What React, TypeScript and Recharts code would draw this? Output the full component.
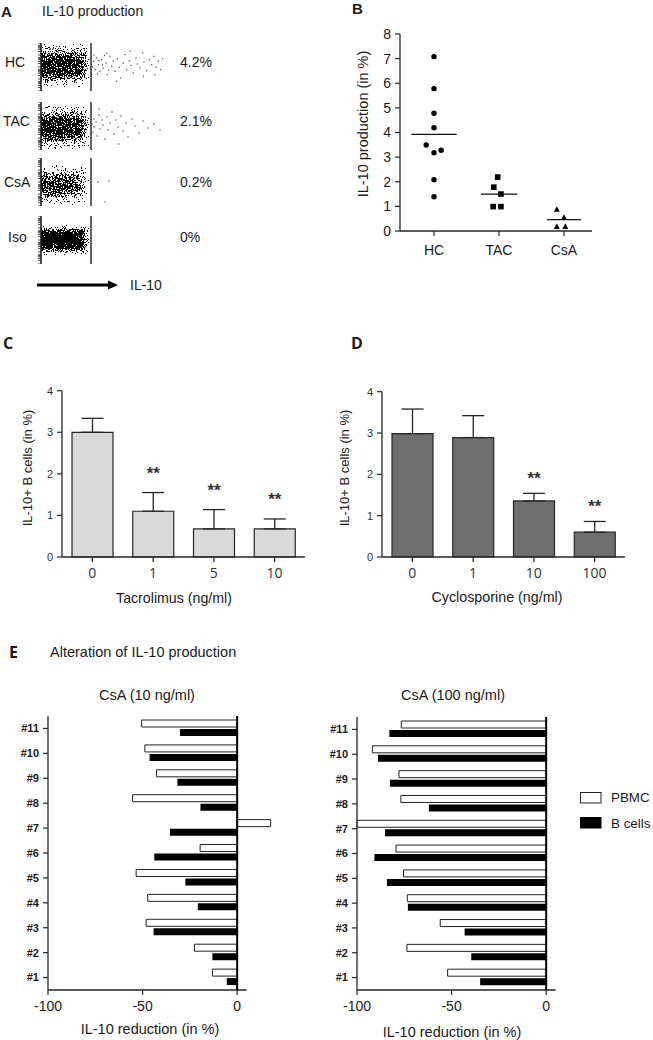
import React from 'react';
import {
  ScatterChart, Scatter, BarChart, Bar, XAxis, YAxis, ErrorBar, LabelList,
  ReferenceLine, ReferenceArea,
} from 'recharts';

const ARIAL = '"Liberation Sans", Arial, sans-serif';
const OPEN = '"Open Sans", "Liberation Sans", sans-serif';
const INK = '#1a1a1a';
const AXIS = '#262626';

// ---------------- Panel A: flow cytometry (IL-10 channel) ----------------
const flowSamples = ['HC', 'TAC', 'CsA', 'Iso'];
const flowPercents = ['4.2%', '2.1%', '0.2%', '0%'];
const flowGate = 50;
// main population extent (channel units) and relative density
const flowCoreX1 = [-8, -8, -8, -8];
const flowCoreX2 = [43, 43, 41, 44];
const flowCoreY1 = [14, 11, 11, 15];
const flowCoreY2 = [37, 34, 31, 33];
const flowDensity = [0.95, 0.95, 0.72, 1];
const flowTicks = [0, 3.6, 5.7, 7.2, 8.4, 9.3, 12, 15.6, 17.7, 19.2, 20.4, 21.3, 24, 27.6, 29.7, 31.2, 32.4, 33.3, 36, 39.6, 41.7, 43.2, 44.4, 45.3, 48];
const hcEventX = [52.3, 54, 55.7, 57.3, 59, 60.7, 62.3, 65, 66.3, 69, 70.7, 72.3, 74, 76.3, 78.3, 79.7, 82.3, 84, 85.7, 88.3, 90, 92.3, 95, 96.3, 99, 101.7, 103, 105.7, 108.3, 110.7, 113, 115, 117.3, 119.7, 121.7, 75.7, 89, 102.3, 65.7, 114, 51.5, 53, 56.5, 58, 61.5, 63.5, 67.5];
const hcEventY = [29.7, 21.3, 33, 26.3, 19.7, 31.3, 23, 28, 16.3, 34.7, 24.7, 29.7, 19.7, 32.3, 23.7, 13, 28, 36.3, 21.3, 30.3, 25.7, 18, 33, 27, 23, 38, 29, 20.3, 31.3, 26.3, 34.7, 23.7, 29.7, 21.3, 32.3, 9.7, 39.7, 14.7, 38, 16.3, 24, 36, 17, 30.5, 26, 35.5, 21];
const tacEventX = [51, 52, 53, 53, 55, 56, 58, 59, 61, 62, 64, 66, 67, 69, 71, 73, 75, 77, 80, 82, 85, 87, 91, 94, 98, 102, 107, 113, 119, 78, 58];
const tacEventY = [26, 18, 31, 23, 28, 14, 35, 21, 30, 25, 11, 33, 20, 27, 38, 16, 30, 23, 34, 19, 27, 13, 31, 24, 17, 29, 22, 26, 20, 6, 41];
const csaEventX = [57, 68, 64];
const csaEventY = [24, 25, 4];
const isoEventX = [12, 28, 38];
const isoEventY = [25, 22, 28];
const flowEventX = [hcEventX, tacEventX, csaEventX, isoEventX];
const flowEventY = [hcEventY, tacEventY, csaEventY, isoEventY];

// ---------------- Panel B ----------------
const groupNames = ['HC', 'TAC', 'CsA'];
const hcValues = [7.08, 5.78, 4.78, 4.19, 3.49, 3.18, 3.28, 2.08, 1.39];
const hcOffsets = [0, 0, 0, 0, -0.12, 0, 0.11, 0, 0];
const tacValues = [2.19, 1.78, 1.5, 0.99, 0.99];
const tacOffsets = [-0.02, -0.08, 0.03, -0.09, 0.03];
const csaValues = [0.88, 0.55, 0.18, 0.18];
const csaOffsets = [-0.11, 0, -0.11, 0.02];
const groupMeans = [3.92, 1.5, 0.46];
const yTicksB = [0, 1, 2, 3, 4, 5, 6, 7, 8];

// ---------------- Panels C / D ----------------
const tacDoses = ['0', '1', '5', '10'];
const tacMeans = [3.0, 1.1, 0.675, 0.675];
const tacErrors = [0.335, 0.45, 0.465, 0.24];
const tacSig = ['', '**', '**', '**'];
const csaDoses = ['0', '1', '10', '100'];
const csaMeans = [2.985, 2.89, 1.356, 0.6];
const csaErrors = [0.595, 0.53, 0.184, 0.26];
const csaSig = ['', '', '**', '**'];
const yTicksCD = [0, 1, 2, 3, 4];

// ---------------- Panel E ----------------
const donors = ['#1', '#2', '#3', '#4', '#5', '#6', '#7', '#8', '#9', '#10', '#11'];
const pbmc10 = [-13.1, -22.6, -48.1, -47.3, -53.4, -19.6, 17.7, -55.3, -42.6, -48.8, -50.5];
const bcell10 = [-5.5, -13.1, -44.2, -20.8, -27.4, -43.8, -35.5, -19.4, -31.6, -46.3, -30.2];
const pbmc100 = [-52.1, -73.6, -56.0, -73.4, -75.4, -79.4, -100, -76.8, -77.8, -91.9, -76.6];
const bcell100 = [-34.9, -39.6, -43.1, -73.1, -84.2, -90.8, -85.2, -62.0, -82.6, -88.9, -82.9];
const xTicksE = [-100, -50, 0];

// ---------------------------------------------------------------------
const flowTops = [43, 102, 158, 216];

function FlowPlot({ idx }: { idx: number }) {
  const events = flowEventX[idx].map((x, i) => ({ x, y: flowEventY[idx][i] }));
  const filt = idx === 3 ? 'url(#cloudTight)' : 'url(#cloudSoft)';
  const dens = flowDensity[idx];
  const fringe = idx === 3 ? 3 : 6;
  return (
    <div style={{ position: 'absolute', left: 30, top: flowTops[idx] }}>
      <ScatterChart width={141} height={48} margin={{ top: 0, right: 0, bottom: 0, left: 0 }}>
        <XAxis type="number" dataKey="x" domain={[0, 130]} hide />
        <YAxis type="number" dataKey="y" domain={[0, 48]} width={11} ticks={flowTicks} interval={0}
          tick={() => <g />} tickSize={3} axisLine={{ stroke: '#111', strokeWidth: 1.5 }}
          tickLine={{ stroke: '#333', strokeWidth: 0.9 }} />
        <ReferenceArea x1={flowCoreX1[idx]} x2={flowCoreX2[idx]} y1={flowCoreY1[idx]} y2={flowCoreY2[idx]}
          ifOverflow="hidden"
          shape={(p: any) => (
            <g filter={filt} clipPath={p.clipPath}>
              <rect x={p.x} y={p.y - fringe} width={p.width + 2} height={p.height + 2 * fringe} fill="#000" fillOpacity={dens * 0.45} />
              <rect x={p.x} y={p.y} width={p.width} height={p.height} fill="#000" fillOpacity={dens} />
            </g>
          )} />
        <ReferenceLine x={flowGate} stroke="#222" strokeWidth={1.4} />
        <Scatter data={events} isAnimationActive={false}
          shape={(p: any) => <rect x={p.cx - 0.6} y={p.cy - 0.6} width={1.2} height={1.2} fill="#444" />} />
      </ScatterChart>
    </div>
  );
}

const circleShape = (p: any) => <circle cx={p.cx} cy={p.cy} r={2.7} fill="#000" />;
const squareShape = (p: any) => <rect x={p.cx - 2.8} y={p.cy - 2.8} width={5.6} height={5.6} fill="#000" />;
const triShape = (p: any) => (
  <path d={`M${p.cx},${p.cy - 3.2} L${p.cx + 3},${p.cy + 2.4} L${p.cx - 3},${p.cy + 2.4} Z`} fill="#000" />
);
const meanHalfWidth = [0.35, 0.28, 0.26];

function PanelB() {
  const hc = hcValues.map((y, i) => ({ x: 1 + hcOffsets[i], y }));
  const tac = tacValues.map((y, i) => ({ x: 2 + tacOffsets[i], y }));
  const csa = csaValues.map((y, i) => ({ x: 3 + csaOffsets[i], y }));
  return (
    <div style={{ position: 'absolute', left: 330, top: 0 }}>
      <ScatterChart width={300} height={270} margin={{ top: 34, right: 38, bottom: 9, left: 0 }}>
        <XAxis type="number" dataKey="x" domain={[0.477, 3.431]} ticks={[1, 2, 3]} interval={0}
          tickFormatter={(v: number) => groupNames[Math.round(v) - 1]} height={30} tickSize={5} tickMargin={9}
          axisLine={{ stroke: AXIS, strokeWidth: 1.3 }} tickLine={{ stroke: AXIS, strokeWidth: 1.2 }}
          tick={{ fontSize: 14, fill: INK, fontFamily: ARIAL }} />
        <YAxis type="number" dataKey="y" domain={[0, 8]} ticks={yTicksB} interval={0} width={70}
          tickSize={5} tickMargin={4} axisLine={{ stroke: AXIS, strokeWidth: 1.3 }}
          tickLine={{ stroke: AXIS, strokeWidth: 1.2 }} tick={{ fontSize: 14, fill: INK, fontFamily: ARIAL }} />
        {groupMeans.map((m, i) => (
          <ReferenceLine key={i} segment={[{ x: i + 1 - meanHalfWidth[i], y: m }, { x: i + 1 + meanHalfWidth[i], y: m }]}
            stroke="#111" strokeWidth={1.3} />
        ))}
        <Scatter data={hc} isAnimationActive={false} shape={circleShape} />
        <Scatter data={tac} isAnimationActive={false} shape={squareShape} />
        <Scatter data={csa} isAnimationActive={false} shape={triShape} />
      </ScatterChart>
    </div>
  );
}

function DosePanel({ left, width, yWidth, top, doses, means, errors, sig, fill, starGap }: any) {
  const data = doses.map((d: string, i: number) => ({ dose: d, mean: means[i], err: [0, errors[i]], sig: sig[i] }));
  return (
    <div style={{ position: 'absolute', left, top: 380 }}>
      <BarChart width={width} height={210} data={data} margin={{ top, right: 5, bottom: 3, left: 0 }}>
        <XAxis dataKey="dose" height={30} tickSize={5} tickMargin={6} interval={0}
          axisLine={{ stroke: AXIS, strokeWidth: 1.3 }} tickLine={{ stroke: AXIS, strokeWidth: 1.2 }}
          tick={{ fontSize: 14, fill: '#333', fontFamily: OPEN }} />
        <YAxis type="number" domain={[0, 4]} ticks={yTicksCD} interval={0} width={yWidth} tickSize={5} tickMargin={4}
          axisLine={{ stroke: AXIS, strokeWidth: 1.3 }} tickLine={{ stroke: AXIS, strokeWidth: 1.2 }}
          tick={{ fontSize: 11, fill: '#333', fontFamily: ARIAL }} />
        <Bar dataKey="mean" fill={fill} stroke={AXIS} strokeWidth={1.2} barSize={41} isAnimationActive={false}>
          <ErrorBar dataKey="err" width={11} stroke={AXIS} strokeWidth={1.3} />
          <LabelList dataKey="sig" content={(p: any) => {
            if (!p.value) return null;
            const i = p.index;
            const pxPerUnit = p.height / means[i];
            const errTop = p.y - errors[i] * pxPerUnit;
            return (
              <text x={p.x + p.width / 2} y={errTop - starGap} textAnchor="middle" dominantBaseline="central"
                fontSize={17} fontWeight="bold" fill="#333" fontFamily={ARIAL}>{p.value}</text>
            );
          }} />
        </Bar>
      </BarChart>
    </div>
  );
}

function ReductionChart({ left, yWidth, marginTop, pbmc, bcell }: any) {
  const data = donors.map((d, i) => ({ donor: d, pbmc: pbmc[i], bcell: bcell[i] }));
  return (
    <div style={{ position: 'absolute', left, top: 700 }}>
      <BarChart width={yWidth + 232} height={320} data={data} layout="vertical" barGap={2} barSize={7}
        margin={{ top: marginTop, right: 5, bottom: 0, left: 0 }}>
        <XAxis type="number" domain={[-100, 20]} ticks={xTicksE} interval={0} axisLine={false} height={30}
          tickSize={5} tickMargin={6} tickLine={{ stroke: AXIS, strokeWidth: 1.2 }}
          tick={{ fontSize: 14, fill: INK, fontFamily: ARIAL }} />
        <YAxis type="category" dataKey="donor" reversed width={yWidth} tickSize={5} tickMargin={4} interval={0}
          axisLine={{ stroke: AXIS, strokeWidth: 1.3 }} tickLine={{ stroke: AXIS, strokeWidth: 1.2 }}
          tick={{ fontSize: 11, fontWeight: 'bold', fill: INK, fontFamily: ARIAL }} />
        <ReferenceArea x1={-100} x2={5}
          shape={(p: any) => (
            <line x1={p.x} x2={p.x + p.width} y1={p.y + p.height} y2={p.y + p.height} stroke={AXIS} strokeWidth={1.3} />
          )} />
        <Bar dataKey="pbmc" fill="#fff" stroke="#222" strokeWidth={1} isAnimationActive={false} />
        <Bar dataKey="bcell" fill="#000" isAnimationActive={false} />
        <ReferenceLine x={0} stroke="#000" strokeWidth={2} />
      </BarChart>
    </div>
  );
}

function T({ x, y, children, size = 14, anchor = 'start', weight = 'normal', font = ARIAL, rotate = false, fill = INK }: any) {
  return (
    <text x={x} y={y} textAnchor={anchor} dominantBaseline="central" fontSize={size} fontWeight={weight}
      fontFamily={font} fill={fill} transform={rotate ? `rotate(-90 ${x} ${y})` : undefined}>{children}</text>
  );
}

export default function App() {
  return (
    <div style={{ position: 'absolute', left: 0, top: 0, width: 653, height: 1040, background: '#fff', fontFamily: ARIAL, overflow: 'hidden' }}>
      <svg width={0} height={0} style={{ position: 'absolute' }}>
        <defs>
          <filter id="cloudSoft" filterUnits="userSpaceOnUse" x={-20} y={-20} width={200} height={100} colorInterpolationFilters="sRGB">
            <feGaussianBlur in="SourceAlpha" stdDeviation="4.5 3.5" result="dens" />
            <feTurbulence type="fractalNoise" baseFrequency={0.9} numOctaves={2} seed={4} result="noise" />
            <feColorMatrix in="noise" type="matrix" values="0 0 0 0 0  0 0 0 0 0  0 0 0 0 0  2.5 0 0 0 -0.75" result="nA" />
            <feComposite in="dens" in2="nA" operator="arithmetic" k1={0} k2={0.9} k3={-1} k4={0} result="diff" />
            <feComponentTransfer in="diff">
              <feFuncA type="discrete" tableValues="0 1 1 1 1 1 1 1 1 1 1 1 1 1 1 1 1 1 1 1" />
            </feComponentTransfer>
          </filter>
          <filter id="cloudTight" filterUnits="userSpaceOnUse" x={-20} y={-20} width={200} height={100} colorInterpolationFilters="sRGB">
            <feGaussianBlur in="SourceAlpha" stdDeviation="3 2.5" result="dens" />
            <feTurbulence type="fractalNoise" baseFrequency={0.9} numOctaves={2} seed={9} result="noise" />
            <feColorMatrix in="noise" type="matrix" values="0 0 0 0 0  0 0 0 0 0  0 0 0 0 0  2.5 0 0 0 -0.75" result="nA" />
            <feComposite in="dens" in2="nA" operator="arithmetic" k1={0} k2={1.05} k3={-1} k4={0} result="diff" />
            <feComponentTransfer in="diff">
              <feFuncA type="discrete" tableValues="0 1 1 1 1 1 1 1 1 1 1 1 1 1 1 1 1 1 1 1" />
            </feComponentTransfer>
          </filter>
        </defs>
      </svg>

      {flowSamples.map((_, i) => <FlowPlot key={i} idx={i} />)}
      <PanelB />
      <DosePanel left={0} width={310} yWidth={62} top={10.7} doses={tacDoses} means={tacMeans}
        errors={tacErrors} sig={tacSig} fill="#d9d9d9" starGap={19.5} />
      <DosePanel left={330} width={300} yWidth={52} top={11.7} doses={csaDoses} means={csaMeans}
        errors={csaErrors} sig={csaSig} fill="#6e6e6e" starGap={15} />
      <ReductionChart left={0} yWidth={48} marginTop={16} pbmc={pbmc10} bcell={bcell10} />
      <ReductionChart left={310} yWidth={47} marginTop={17} pbmc={pbmc100} bcell={bcell100} />

      <svg width={653} height={1040} style={{ position: 'absolute', left: 0, top: 0, pointerEvents: 'none' }}>
        {/* Panel A */}
        <T x={1} y={11} size={15} weight="bold">A</T>
        <T x={42} y={11} size={14}>IL-10 production</T>
        {flowSamples.map((s, i) => (
          <T key={s} x={[5, 3, 4, 8][i]} y={[62, 121, 182, 237][i]} size={14}>{s}</T>
        ))}
        {flowPercents.map((s, i) => (
          <T key={s} x={180} y={[62, 121, 182, 237][i]} size={14}>{s}</T>
        ))}
        <line x1={37} y1={285} x2={110} y2={285} stroke="#000" strokeWidth={3} />
        <path d="M108,280.5 L118,285 L108,289.5 Z" fill="#000" />
        <T x={130} y={285} size={14}>IL-10</T>

        {/* Panel B */}
        <T x={352} y={8} size={15} weight="bold">B</T>
        <T x={363} y={124} size={14.5} anchor="middle" rotate>IL-10 production (in %)</T>

        {/* Panel C / D */}
        <T x={3} y={343} size={16} weight="bold" font={OPEN}>C</T>
        <T x={351} y={343} size={16} weight="bold" font={OPEN}>D</T>
        <T x={27} y={468} size={13} anchor="middle" rotate>IL-10+ B cells (in %)</T>
        <T x={344} y={468} size={13} anchor="middle" rotate>IL-10+ B cells (in %)</T>
        <T x={174} y={598} size={14.2} anchor="middle">Tacrolimus (ng/ml)</T>
        <T x={497} y={597} size={14.3} anchor="middle">Cyclosporine (ng/ml)</T>

        {/* Panel E */}
        <T x={9} y={652} size={16} weight="bold" font={OPEN}>E</T>
        <T x={50} y={652} size={14.5}>Alteration of IL-10 production</T>
        <T x={147} y={695} size={14.5} anchor="middle">CsA (10 ng/ml)</T>
        <T x={453} y={695} size={14.5} anchor="middle">CsA (100 ng/ml)</T>
        <T x={150} y={1029} size={14.5} anchor="middle">IL-10 reduction (in %)</T>
        <T x={452} y={1032} size={14.5} anchor="middle">IL-10 reduction (in %)</T>

        {/* Legend */}
        <rect x={580.5} y={792.5} width={20.5} height={10.5} fill="#fff" stroke="#222" strokeWidth={1} />
        <rect x={580} y={817} width={21.5} height={11.5} fill="#000" />
        <T x={611} y={797} size={13.4}>PBMC</T>
        <T x={611} y={823} size={13.4}>B cells</T>
      </svg>
    </div>
  );
}
